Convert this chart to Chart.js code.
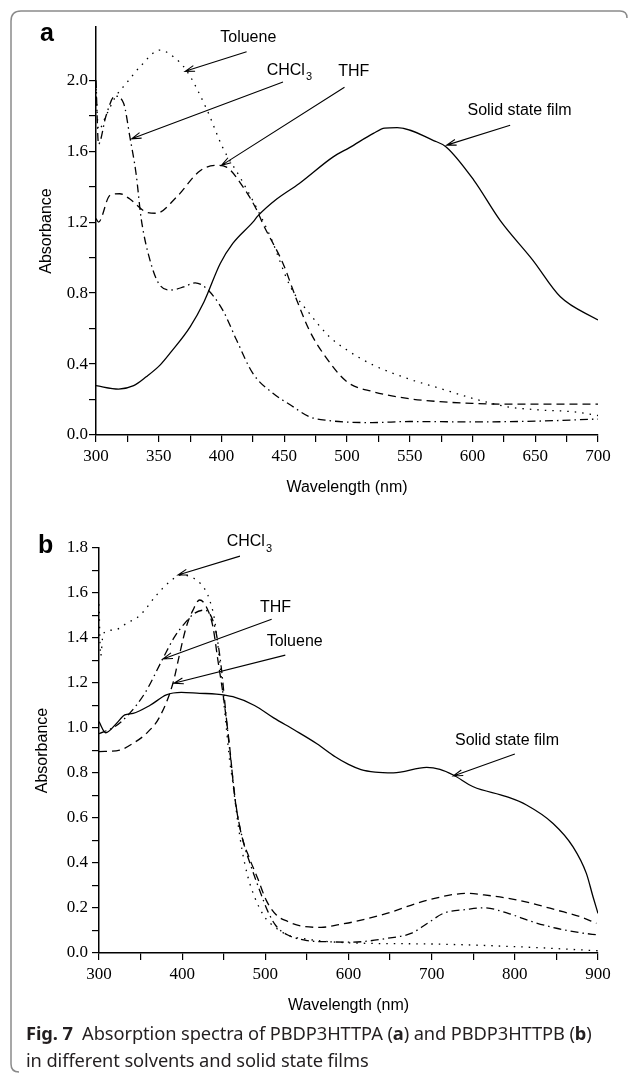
<!DOCTYPE html>
<html>
<head>
<meta charset="utf-8">
<script src="https://cdn.jsdelivr.net/npm/chart.js@4.4.1/dist/chart.umd.min.js"></script>
<style>
  body { margin: 0; background: #fff; width: 630px; height: 1077px; position: relative; overflow: hidden; }
  canvas { position: absolute; left: 0; }
  #chartA { top: 0; }
  #chartB { top: 520px; }
  #frame { position: absolute; left: 0; top: 0; }
  #caption { position: absolute; left: 26px; top: 1019px; font: 18.3px "Noto Sans", sans-serif;
             line-height: 27px; color: #231f20; white-space: nowrap; letter-spacing: -0.1px; }
</style>
</head>
<body>
<svg id="frame" width="630" height="1077">
  <path d="M627,18 Q627,11 620,11 L21,11 Q11,11 11,21 L11,1064 Q11,1072 19,1072" fill="none" stroke="#8a8a8a" stroke-width="1.5"/>
</svg>
<canvas id="chartA" width="630" height="510"></canvas>
<canvas id="chartB" width="630" height="505"></canvas>
<div id="caption"><b>Fig. 7</b>&nbsp;&nbsp;Absorption spectra of PBDP3HTTPA (<b>a</b>) and PBDP3HTTPB (<b>b</b>)<br>in different solvents and solid state films</div>

<script>
// ----- Panel a: PBDP3HTTPA -----
const aTolX = [300, 302, 308, 315, 325, 335, 351, 362, 372, 388, 401, 415, 428, 439, 455, 470, 486, 500, 521, 548, 574, 600, 627, 654, 680, 700];
const aTolY = [1.95, 1.72, 1.80, 1.90, 1.99, 2.075, 2.17, 2.13, 2.056, 1.84, 1.62, 1.45, 1.28, 1.117, 0.835, 0.686, 0.554, 0.479, 0.394, 0.319, 0.263, 0.207, 0.16, 0.141, 0.131, 0.11];

const aThfX = [300, 302, 311, 319, 327, 339, 348, 364, 383, 396, 404, 417, 428, 433, 449, 460, 470, 481, 500, 521, 548, 574, 600, 627, 700];
const aThfY = [1.22, 1.20, 1.35, 1.36, 1.33, 1.26, 1.25, 1.34, 1.49, 1.52, 1.51, 1.40, 1.27, 1.19, 0.967, 0.76, 0.59, 0.46, 0.30, 0.244, 0.206, 0.188, 0.178, 0.174, 0.174];

const aChcX = [300, 302, 308, 315, 322, 327, 332, 336, 343, 350, 359, 370, 379, 388, 401, 412, 425, 441, 455, 470, 486, 500, 520, 550, 600, 650, 700];
const aChcY = [2.0, 1.64, 1.80, 1.91, 1.87, 1.68, 1.47, 1.22, 0.986, 0.854, 0.817, 0.835, 0.858, 0.826, 0.704, 0.535, 0.347, 0.235, 0.169, 0.103, 0.081, 0.073, 0.07, 0.076, 0.074, 0.078, 0.09];

const aFilmX = [300, 318, 330, 340, 351, 360, 375, 386, 399, 409, 425, 429, 444, 462, 489, 502, 521, 530, 540, 569, 579, 601, 622, 648, 670, 700];
const aFilmY = [0.278, 0.259, 0.278, 0.328, 0.394, 0.47, 0.61, 0.75, 0.967, 1.08, 1.20, 1.235, 1.33, 1.418, 1.568, 1.62, 1.70, 1.73, 1.733, 1.66, 1.624, 1.437, 1.21, 0.986, 0.779, 0.648];

// ----- Panel b: PBDP3HTTPB -----
const bChcX = [300, 302, 305, 319, 333, 349, 369, 385, 399, 417, 429, 433, 439, 445, 449, 453, 457, 461, 466, 472, 479, 487, 499, 511, 527, 549, 603, 700, 802, 900];
const bChcY = [1.55, 1.32, 1.42, 1.436, 1.465, 1.50, 1.59, 1.65, 1.68, 1.658, 1.606, 1.569, 1.48, 1.30, 1.154, 1.006, 0.858, 0.754, 0.606, 0.458, 0.339, 0.25, 0.161, 0.117, 0.08, 0.062, 0.045, 0.04, 0.028, 0.01];

const bTolX = [300, 325, 341, 357, 373, 389, 397, 405, 413, 421, 429, 437, 443, 449, 457, 463, 471, 481, 491, 501, 513, 527, 543, 567, 591, 607, 646, 695, 743, 763, 792, 821, 850, 879, 898];
const bTolY = [0.895, 0.902, 0.932, 0.976, 1.05, 1.2, 1.33, 1.45, 1.524, 1.569, 1.539, 1.45, 1.30, 1.154, 0.92, 0.70, 0.53, 0.42, 0.33, 0.235, 0.17, 0.14, 0.12, 0.114, 0.128, 0.139, 0.176, 0.235, 0.265, 0.258, 0.243, 0.22, 0.191, 0.161, 0.132];

const bThfX = [300, 319, 335, 355, 377, 391, 403, 415, 427, 435, 441, 447, 451, 455, 459, 465, 473, 483, 493, 503, 513, 527, 551, 575, 603, 646, 675, 695, 714, 743, 763, 792, 821, 850, 879, 900];
const bThfY = [0.975, 1.006, 1.058, 1.154, 1.31, 1.406, 1.465, 1.51, 1.524, 1.495, 1.42, 1.27, 1.124, 0.976, 0.84, 0.65, 0.502, 0.383, 0.28, 0.185, 0.12, 0.08, 0.055, 0.05, 0.048, 0.065, 0.087, 0.132, 0.176, 0.194, 0.201, 0.176, 0.139, 0.11, 0.09, 0.08];

const bFilmX = [300, 308, 321, 331, 341, 361, 381, 399, 421, 441, 461, 487, 510, 535, 562, 584, 600, 615, 632, 654, 694, 710, 726, 750, 790, 814, 846, 870, 886, 894, 900];
const bFilmY = [1.028, 0.979, 1.02, 1.058, 1.065, 1.10, 1.147, 1.158, 1.154, 1.151, 1.139, 1.10, 1.045, 0.991, 0.93, 0.872, 0.838, 0.815, 0.804, 0.801, 0.825, 0.816, 0.791, 0.739, 0.695, 0.658, 0.576, 0.472, 0.354, 0.25, 0.176];

// line styles
const DOT = [1.5, 6];
const DASH = [8, 5];
const DASHDOT = [8, 4, 1.5, 4];

function pts(xs, ys) {
  return xs.map((x, i) => ({ x: x, y: ys[i] }));
}

function series(xs, ys, dash) {
  return {
    data: pts(xs, ys),
    borderColor: '#000',
    borderWidth: 1.3,
    borderDash: dash,
    pointRadius: 0,
    fill: false,
    cubicInterpolationMode: 'monotone'
  };
}

// text labels + arrows, placed in data units
const annotate = {
  id: 'annotate',
  afterDatasetsDraw(chart, args, opts) {
    const { ctx, scales: { x, y } } = chart;
    ctx.save();
    ctx.fillStyle = '#000';
    ctx.strokeStyle = '#000';
    ctx.lineWidth = 1.1;
    opts.labels.forEach(l => {
      const px = x.getPixelForValue(l.x), py = y.getPixelForValue(l.y);
      ctx.font = '16px "Liberation Sans"';
      ctx.textBaseline = 'middle';
      ctx.textAlign = 'left';
      ctx.fillText(l.text, px, py);
      if (l.sub) {
        const w = ctx.measureText(l.text).width;
        ctx.font = '11px "Liberation Sans"';
        ctx.fillText(l.sub, px + w + 1, py + 7);
      }
    });
    opts.arrows.forEach(a => {
      const x1 = x.getPixelForValue(a[0]), y1 = y.getPixelForValue(a[1]);
      const x2 = x.getPixelForValue(a[2]), y2 = y.getPixelForValue(a[3]);
      const ang = Math.atan2(y2 - y1, x2 - x1);
      ctx.beginPath();
      ctx.moveTo(x1, y1);
      ctx.lineTo(x2, y2);
      ctx.moveTo(x2 - 10 * Math.cos(ang - 0.3), y2 - 10 * Math.sin(ang - 0.3));
      ctx.lineTo(x2, y2);
      ctx.lineTo(x2 - 10 * Math.cos(ang + 0.3), y2 - 10 * Math.sin(ang + 0.3));
      ctx.stroke();
    });
    ctx.font = 'bold 25px "Liberation Sans"';
    ctx.textBaseline = 'alphabetic';
    ctx.fillText(opts.letter[0], opts.letter[1], opts.letter[2]);
    ctx.restore();
  }
};

const tickFont = { family: '"Liberation Serif", "Times New Roman", serif', size: 17 };
const titleFont = { family: '"Liberation Sans", Arial, sans-serif', size: 16 };

function makeChart(id, cfg) {
  return new Chart(document.getElementById(id), {
    type: 'line',
    data: { datasets: cfg.datasets },
    plugins: [annotate],
    options: {
      responsive: false,
      animation: false,
      layout: { padding: { left: 0, right: 32, top: cfg.padTop, bottom: 0 } },
      plugins: {
        legend: { display: false },
        tooltip: { enabled: false },
        annotate: cfg.notes
      },
      scales: {
        x: {
          type: 'linear',
          min: cfg.xMin, max: cfg.xMax,
          afterFit: s => { s.height = cfg.xHeight; },
          ticks: {
            stepSize: cfg.xStep, autoSkip: false, maxRotation: 0, padding: 4,
            color: '#000', font: tickFont,
            callback: v => (v % cfg.xLabelStep === 0 ? v : '')
          },
          grid: { drawOnChartArea: false, tickLength: 7, color: '#000', lineWidth: 1.2 },
          border: { color: '#000', width: 1.5 },
          title: { display: true, text: 'Wavelength (nm)', color: '#000', font: titleFont, padding: { top: 0, bottom: cfg.xTitlePad } }
        },
        y: {
          min: 0, max: cfg.yMax,
          afterBuildTicks: s => { s.ticks = s.ticks.filter(t => t.value <= cfg.yTop + 1e-6); },
          afterFit: s => { s.width = cfg.yWidth; },
          ticks: {
            stepSize: cfg.yStep, autoSkip: false, padding: cfg.yTickPad,
            color: '#000', font: tickFont,
            callback: v => (Math.round(v * 10) % cfg.yLabelEvery === 0 ? v.toFixed(1) : '')
          },
          grid: { drawOnChartArea: false, tickLength: 7, color: '#000', lineWidth: 1.2 },
          border: { color: '#000', width: 1.5 },
          title: { display: true, text: 'Absorbance', color: '#000', font: titleFont, padding: { top: cfg.yTitlePad, bottom: 0 } }
        }
      }
    }
  });
}

makeChart('chartA', {
  datasets: [
    series(aTolX, aTolY, DOT),
    series(aThfX, aThfY, DASH),
    series(aChcX, aChcY, DASHDOT),
    series(aFilmX, aFilmY, [])
  ],
  xMin: 300, xMax: 700, xStep: 25, xLabelStep: 50, xHeight: 75, xTitlePad: 13,
  yMax: 2.3, yTop: 2.2, yStep: 0.2, yLabelEvery: 4, yWidth: 96, yTickPad: 1, yTitlePad: 37,
  padTop: 27,
  notes: {
    letter: ['a', 40, 41],
    labels: [
      { text: 'Toluene', x: 399, y: 2.242 },
      { text: 'CHCl', sub: '3', x: 436, y: 2.056 },
      { text: 'THF', x: 493, y: 2.05 },
      { text: 'Solid state film', x: 596, y: 1.83 }
    ],
    arrows: [
      [420, 2.16, 371, 2.05],
      [449, 1.99, 328.4, 1.67],
      [498, 1.96, 400, 1.52],
      [630, 1.746, 579.4, 1.634]
    ]
  }
});

makeChart('chartB', {
  datasets: [
    series(bChcX, bChcY, DOT),
    series(bTolX, bTolY, DASH),
    series(bThfX, bThfY, DASHDOT),
    series(bFilmX, bFilmY, [])
  ],
  xMin: 300, xMax: 900, xStep: 50, xLabelStep: 100, xHeight: 72, xTitlePad: 10,
  yMax: 1.8, yTop: 1.8, yStep: 0.1, yLabelEvery: 2, yWidth: 99, yTickPad: 4, yTitlePad: 33,
  padTop: 28,
  notes: {
    letter: ['b', 38, 33],
    labels: [
      { text: 'CHCl', sub: '3', x: 453.5, y: 1.828 },
      { text: 'THF', x: 493.6, y: 1.536 },
      { text: 'Toluene', x: 501.6, y: 1.383 },
      { text: 'Solid state film', x: 728, y: 0.942 }
    ],
    arrows: [
      [469.5, 1.764, 395, 1.68],
      [507.6, 1.483, 377, 1.307],
      [524, 1.324, 390, 1.199],
      [800, 0.884, 726, 0.787]
    ]
  }
});
</script>
</body>
</html>
